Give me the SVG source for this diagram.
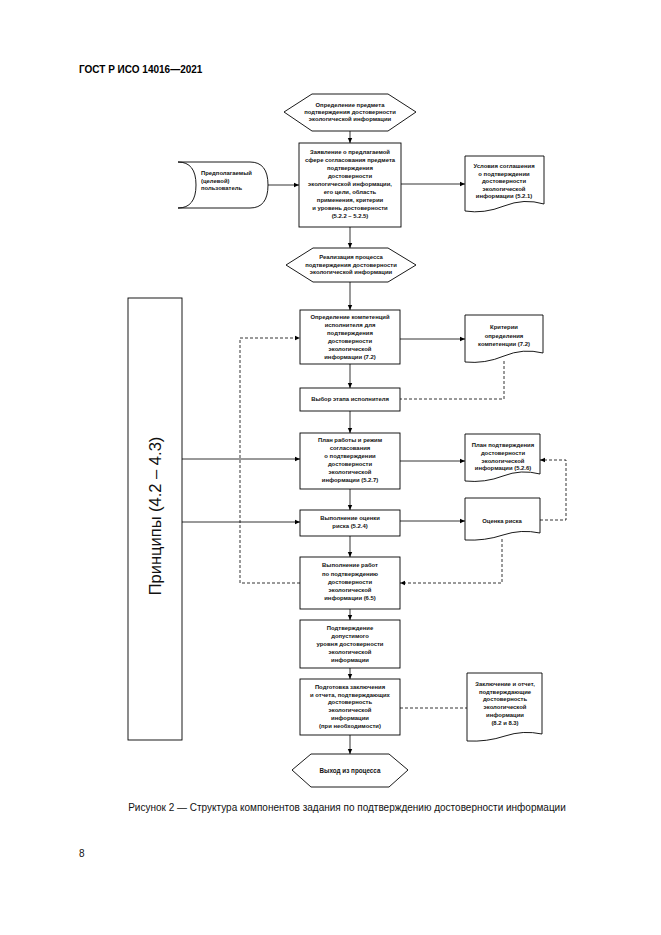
<svg xmlns="http://www.w3.org/2000/svg" width="661" height="935" viewBox="0 0 661 935">
<defs>
<marker id="ah" markerWidth="6" markerHeight="6" refX="5" refY="3" orient="auto" markerUnits="userSpaceOnUse"><path d="M0,0.8 L5,3 L0,5.2 Z" fill="#000"/></marker>
<style>
.s{fill:#fff;stroke:#000;stroke-width:0.9}
.t{font-family:"Liberation Sans",Arial,sans-serif;font-size:5.9px;font-weight:bold;fill:#111;text-anchor:middle}
.tl{text-anchor:start}
.c{fill:none;stroke:#000;stroke-width:0.8}
.d{stroke-dasharray:3,2}
.a{marker-end:url(#ah)}
</style>
</defs>
<rect width="661" height="935" fill="#fff"/>
<text x="79" y="73" style="font-family:'Liberation Sans',Arial,sans-serif;font-size:10px;font-weight:bold">ГОСТ Р ИСО 14016—2021</text>

<g id="connectors">
<line class="c a" x1="350" y1="131" x2="350" y2="143"/>
<line class="c a" x1="266" y1="185" x2="299" y2="185"/>
<line class="c a" x1="401" y1="184" x2="465" y2="184"/>
<line class="c a" x1="350" y1="227" x2="350" y2="248"/>
<line class="c a" x1="350" y1="282" x2="350" y2="310"/>
<line class="c a" x1="400" y1="339" x2="465" y2="339"/>
<path class="c d" d="M504,361 V399 H400"/>
<line class="c a" x1="350" y1="364" x2="350" y2="388"/>
<line class="c a" x1="350" y1="411" x2="350" y2="433"/>
<line class="c a" x1="182" y1="459" x2="300" y2="459"/>
<line class="c a" x1="400" y1="461" x2="465" y2="461"/>
<path class="c d a" d="M540,520 H566 V460 H540"/>
<line class="c a" x1="350" y1="489" x2="350" y2="510"/>
<line class="c a" x1="182" y1="522" x2="300" y2="522"/>
<line class="c a" x1="400" y1="521" x2="465" y2="521"/>
<path class="c d a" d="M502,539 V583 H400"/>
<line class="c a" x1="350" y1="536" x2="350" y2="557"/>
<path class="c d a" d="M300,583 H240 V338 H300"/>
<line class="c a" x1="350" y1="609" x2="350" y2="620"/>
<line class="c a" x1="350" y1="668" x2="350" y2="679"/>
<line class="c d" x1="400" y1="708" x2="467" y2="708"/>
<line class="c a" x1="350" y1="735" x2="350" y2="754"/>
</g>

<g id="h1">
<polygon class="s" points="284,112 312,94 388,94 416,112 388,131 312,131"/>
<text class="t"><tspan x="350" y="107">Определение предмета</tspan><tspan x="350" y="114">подтверждения достоверности</tspan><tspan x="350" y="121">экологической информации</tspan></text>
</g>

<g id="user">
<path class="s" d="M178,162 H250 Q268,162 268,185 Q268,208 250,208 H178 Q196,208 196,185 Q196,162 178,162 Z"/>
<text class="t tl"><tspan x="201" y="175">Предполагаемый</tspan><tspan x="201" y="183">(целевой)</tspan><tspan x="201" y="190">пользователь</tspan></text>
</g>

<g id="b1">
<rect class="s" x="299" y="143" width="102" height="84"/>
<text class="t"><tspan x="350" y="154">Заявление о предлагаемой</tspan><tspan x="350" y="162">сфере согласования предмета</tspan><tspan x="350" y="170">подтверждения</tspan><tspan x="350" y="178">достоверности</tspan><tspan x="350" y="186">экологической информации,</tspan><tspan x="350" y="194">его цели, область</tspan><tspan x="350" y="202">применения, критерии</tspan><tspan x="350" y="210">и уровень достоверности</tspan><tspan x="350" y="218">(5.2.2 – 5.2.5)</tspan></text>
</g>

<g id="d1">
<path class="s" d="M465,156 H544 V204 Q524,198 504,206 T465,211 Z"/>
<text class="t"><tspan x="504" y="168">Условия соглашения</tspan><tspan x="504" y="175.5">о подтверждении</tspan><tspan x="504" y="183">достоверности</tspan><tspan x="504" y="190.5">экологической</tspan><tspan x="504" y="198">информации (5.2.1)</tspan></text>
</g>

<g id="h2">
<polygon class="s" points="286,265 313,248 388,248 416,265 388,282 313,282"/>
<text class="t"><tspan x="351" y="259">Реализация процесса</tspan><tspan x="351" y="266.5">подтверждения достоверности</tspan><tspan x="351" y="274">экологической информации</tspan></text>
</g>

<g id="principles">
<rect class="s" x="128" y="298" width="54" height="442"/>
<text transform="translate(161,516) rotate(-90)" text-anchor="middle" style="font-family:'Liberation Sans',Arial,sans-serif;font-size:16.5px;fill:#111">Принципы (4.2 – 4.3)</text>
</g>

<g id="b2">
<rect class="s" x="300" y="310" width="100" height="54"/>
<text class="t"><tspan x="350" y="319">Определение компетенций</tspan><tspan x="350" y="327">исполнителя для</tspan><tspan x="350" y="335">подтверждения</tspan><tspan x="350" y="343">достоверности</tspan><tspan x="350" y="351">экологической</tspan><tspan x="350" y="359">информации (7.2)</tspan></text>
</g>

<g id="d2">
<path class="s" d="M465,315 H543 V353 Q523,348 504,356 T465,362 Z"/>
<text class="t"><tspan x="504" y="329">Критерии</tspan><tspan x="504" y="338">определения</tspan><tspan x="504" y="346">компетенции (7.2)</tspan></text>
</g>

<g id="b3">
<rect class="s" x="300" y="388" width="100" height="23"/>
<text class="t"><tspan x="350" y="401">Выбор этапа исполнителя</tspan></text>
</g>

<g id="b4">
<rect class="s" x="300" y="433" width="100" height="56"/>
<text class="t"><tspan x="350" y="442">План работы и режим</tspan><tspan x="350" y="450">согласования</tspan><tspan x="350" y="458">о подтверждении</tspan><tspan x="350" y="466">достоверности</tspan><tspan x="350" y="474">экологической</tspan><tspan x="350" y="482">информации (5.2.7)</tspan></text>
</g>

<g id="d3">
<path class="s" d="M465,434 H540 V474 Q521,469 503,476 T465,481 Z"/>
<text class="t"><tspan x="503" y="447">План подтверждения</tspan><tspan x="503" y="455">достоверности</tspan><tspan x="503" y="463">экологической</tspan><tspan x="503" y="470">информации (5.2.6)</tspan></text>
</g>

<g id="b5">
<rect class="s" x="300" y="510" width="100" height="26"/>
<text class="t"><tspan x="350" y="520">Выполнение оценки</tspan><tspan x="350" y="528">риска (5.2.4)</tspan></text>
</g>

<g id="d4">
<path class="s" d="M465,498 H540 V533 Q521,529 503,535 T465,540 Z"/>
<text class="t"><tspan x="502" y="523">Оценка риска</tspan></text>
</g>

<g id="b6">
<rect class="s" x="300" y="557" width="100" height="52"/>
<text class="t"><tspan x="350" y="567">Выполнение работ</tspan><tspan x="350" y="576">по подтверждению</tspan><tspan x="350" y="584">достоверности</tspan><tspan x="350" y="592">экологической</tspan><tspan x="350" y="600">информации (6.5)</tspan></text>
</g>

<g id="b7">
<rect class="s" x="300" y="620" width="100" height="48"/>
<text class="t"><tspan x="350" y="630">Подтверждение</tspan><tspan x="350" y="638">допустимого</tspan><tspan x="350" y="646">уровня достоверности</tspan><tspan x="350" y="654">экологической</tspan><tspan x="350" y="662">информации</tspan></text>
</g>

<g id="b8">
<rect class="s" x="300" y="679" width="100" height="56"/>
<text class="t"><tspan x="350" y="689">Подготовка заключения</tspan><tspan x="350" y="696.5">и отчета, подтверждающих</tspan><tspan x="350" y="704">достоверность</tspan><tspan x="350" y="712">экологической</tspan><tspan x="350" y="720">информации</tspan><tspan x="350" y="728">(при необходимости)</tspan></text>
</g>

<g id="d5">
<path class="s" d="M467,673 H542 V734 Q523,730 505,736 T467,741 Z"/>
<text class="t"><tspan x="505" y="686">Заключение и отчет,</tspan><tspan x="505" y="694">подтверждающие</tspan><tspan x="505" y="701">достоверность</tspan><tspan x="505" y="709">экологической</tspan><tspan x="505" y="717">информации</tspan><tspan x="505" y="725">(8.2 и 8.3)</tspan></text>
</g>

<g id="h3">
<polygon class="s" points="292,770 311,754 389,754 408,770 389,787 311,787"/>
<text class="t" style="font-size:6.3px"><tspan x="350" y="772.5">Выход из процесса</tspan></text>
</g>

<text x="347" y="811" text-anchor="middle" style="font-family:'Liberation Sans',Arial,sans-serif;font-size:10px;fill:#111">Рисунок 2 — Структура компонентов задания по подтверждению достоверности информации</text>
<text x="79" y="857" style="font-family:'Liberation Sans',Arial,sans-serif;font-size:10px;fill:#111">8</text>
</svg>
